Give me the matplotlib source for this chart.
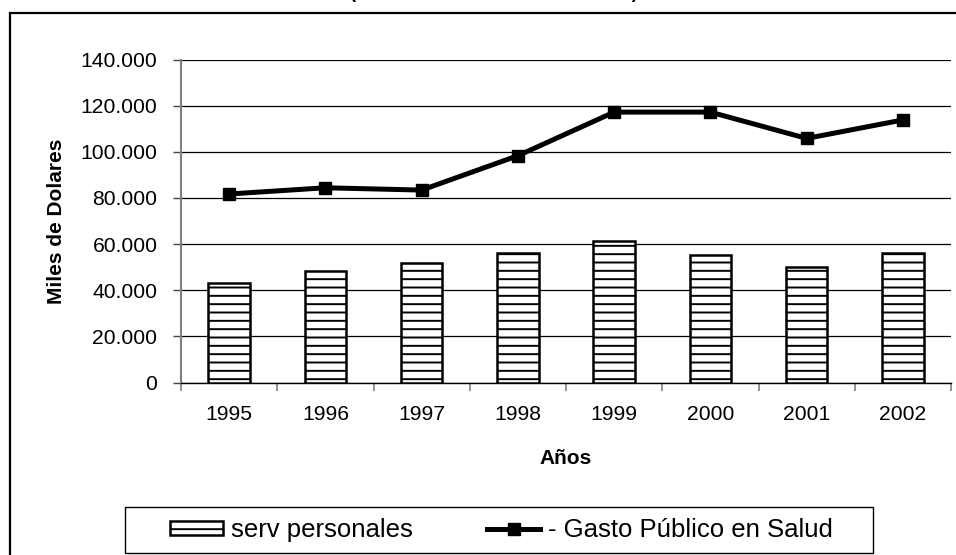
import matplotlib
matplotlib.use('Agg')
import matplotlib.pyplot as plt
from matplotlib.patches import Rectangle
from matplotlib.ticker import FuncFormatter, FixedLocator
import numpy as np

plt.rcParams['font.family'] = ['Liberation Sans', 'DejaVu Sans']
plt.rcParams['hatch.linewidth'] = 1.4
plt.rcParams['hatch.color'] = '#222222'

# datos (miles de dolares)
years = ['1995', '1996', '1997', '1998', '1999', '2000', '2001', '2002']
serv_personales = [43300, 48300, 51800, 56300, 61300, 55400, 50200, 56300]
gasto_salud = [81700, 84400, 83400, 98300, 117200, 117200, 105800, 113800]
y_ticks = [0, 20000, 40000, 60000, 80000, 100000, 120000, 140000]

W, H = 956, 555
fig = plt.figure(figsize=(W / 100, H / 100), dpi=100)
ax = fig.add_axes([181 / W, 1 - 382.5 / H, 770 / W, 323 / H])

x = np.arange(len(years))
bars = ax.bar(x, serv_personales, width=0.43, color='white', edgecolor='black',
              linewidth=1.8, hatch='--', zorder=3, label='serv personales')
line, = ax.plot(x, gasto_salud, color='black', linewidth=3.6, marker='s',
                markersize=9, zorder=4, label='- Gasto Público en Salud')

ax.set_xlim(-0.5, len(years) - 0.5)
ax.set_ylim(0, 140000)

# eje y con separador de miles con punto
ax.yaxis.set_major_locator(FixedLocator(y_ticks))
ax.yaxis.set_major_formatter(FuncFormatter(lambda v, p: f'{v:,.0f}'.replace(',', '.')))
ax.tick_params(axis='y', direction='out', length=6, width=1, color='#444444',
               pad=11, labelsize=15.2)
ax.grid(axis='y', color='black', linewidth=0.9, zorder=0)

# eje x: marcas entre categorias, etiquetas al centro
ax.xaxis.set_major_locator(FixedLocator(np.arange(-0.5, len(years), 1.0)))
ax.xaxis.set_minor_locator(FixedLocator(x))
ax.set_xticklabels([], minor=False)
ax.set_xticklabels(years, minor=True)
ax.tick_params(axis='x', which='major', direction='out', length=6, width=1.2,
               color='#808080')
ax.tick_params(axis='x', which='minor', length=0, pad=16, labelsize=15.2)

for side in ('top', 'right'):
    ax.spines[side].set_visible(False)
ax.spines['left'].set_color('#808080')
ax.spines['left'].set_linewidth(1.5)
ax.spines['bottom'].set_color('black')
ax.spines['bottom'].set_linewidth(1.0)

ax.set_ylabel('Miles de Dolares', fontsize=15, fontweight='bold', va='center')
ax.yaxis.set_label_coords(-0.162, 0.5)
ax.set_xlabel('Años', fontsize=15, fontweight='bold', va='center')
ax.xaxis.set_label_coords(0.5, -0.234)

# titulo recortado por el borde superior
fig.text(494 / W, 1 + 1.5 / H, '(En Miles de Dólares Corrientes)', fontsize=13.5,
         fontweight='bold', ha='center', va='baseline')

# marco exterior del grafico
fig.add_artist(Rectangle((10 / W, -0.1), 1.2, 1.1 - 13 / H, transform=fig.transFigure,
                         fill=False, edgecolor='black', linewidth=1.6))

# leyenda con su recuadro
fig.add_artist(Rectangle((125 / W, 1 - 553 / H), 748 / W, 46 / H, transform=fig.transFigure,
                         fill=False, edgecolor='black', linewidth=1.0))
fig.legend(handles=[bars, line], labels=['serv personales', '- Gasto Público en Salud'],
           loc='center left', bbox_to_anchor=(157 / W, 1 - 530 / H), ncol=2,
           frameon=False, fontsize=18.5, borderpad=0, handlelength=2.06,
           handleheight=0.5, handletextpad=0.31, columnspacing=2.9)

fig.savefig('out.png', dpi=100)
